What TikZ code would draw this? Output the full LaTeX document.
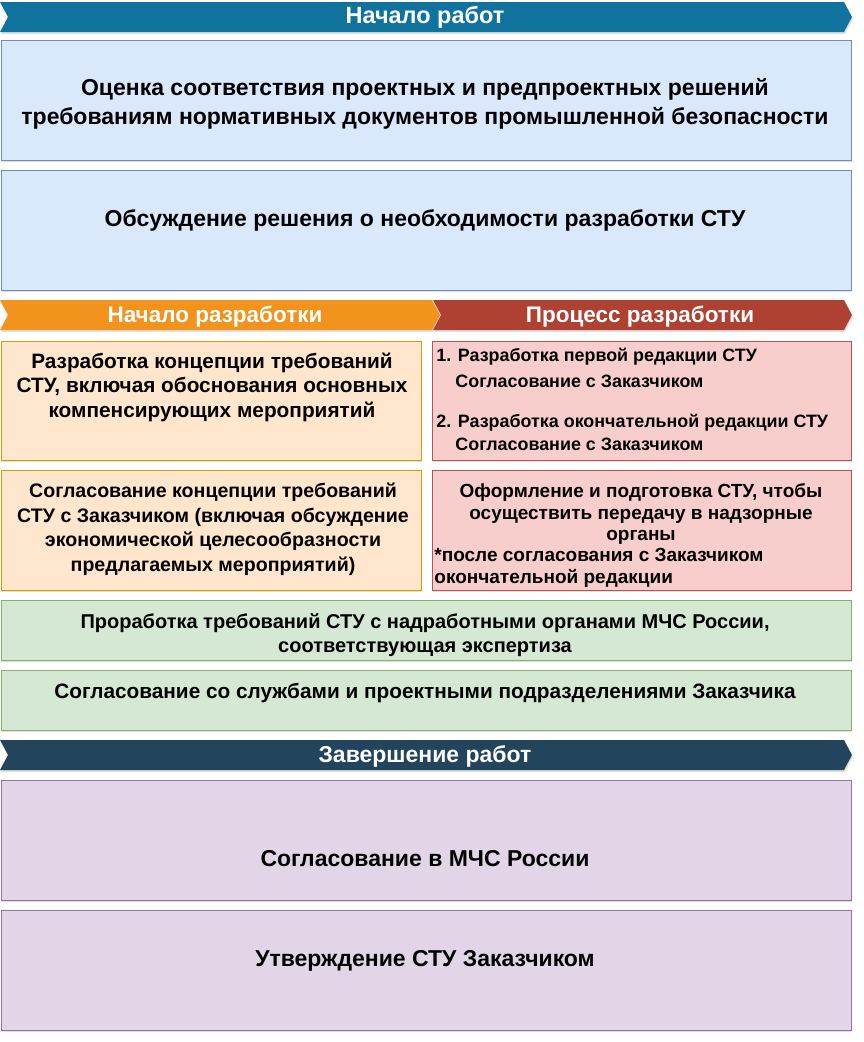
\documentclass[tikz,border=0pt]{standalone}
\usepackage{fontspec}
\setmainfont{Liberation Sans}
\usetikzlibrary{shadows}
\definecolor{bannerA}{HTML}{10739E}
\definecolor{bannerB}{HTML}{F2931E}
\definecolor{bannerC}{HTML}{AE4132}
\definecolor{bannerD}{HTML}{23445D}
\definecolor{blueF}{HTML}{DAE8FC}\definecolor{blueD}{HTML}{6C8EBF}
\definecolor{orF}{HTML}{FFE6CC}\definecolor{orD}{HTML}{D79B00}
\definecolor{redF}{HTML}{F8CECC}\definecolor{redD}{HTML}{B85450}
\definecolor{grF}{HTML}{D5E8D4}\definecolor{grD}{HTML}{82B366}
\definecolor{puF}{HTML}{E1D5E7}\definecolor{puD}{HTML}{9673A6}
\tikzset{
  boxsh/.style={drop shadow={shadow xshift=1pt,shadow yshift=-2pt,opacity=0.25}},
  bluebox/.style={fill=blueF,draw=blueD,boxsh},
  orbox/.style={fill=orF,draw=orD,boxsh},
  redbox/.style={fill=redF,draw=redD,boxsh},
  grbox/.style={fill=grF,draw=grD,boxsh},
  pubox/.style={fill=puF,draw=puD,boxsh},
  txt/.style={font=\fontsize{23}{28}\selectfont\bfseries,align=center,inner sep=0},
  ltxt/.style={font=\fontsize{17.9}{21}\selectfont\bfseries,align=left,inner sep=0,anchor=west},
  btxt/.style={font=\fontsize{23.5}{24}\selectfont\bfseries,text=white,inner sep=0},
}
\newcommand{\banner}[5]{% x1,x2,ytop,ybot,color
  \fill[#5,boxsh] (#1,#3) -- (#2-8,#3) -- (#2,{(#3+#4)/2}) -- (#2-8,#4) -- (#1,#4) -- (#1+8,{(#3+#4)/2}) -- cycle;}
\begin{document}
\begin{tikzpicture}[x=1pt,y=-1pt,line width=0.8pt]
\useasboundingbox (0,0) rectangle (863,1042);
% banner 1
\banner{0}{852}{2}{32}{bannerA}
\node[btxt] (b1) at (425,17.5) {Начало работ};
\draw[bluebox] (1,40) rectangle (851,160);
\node[txt,font=\fontsize{23}{29}\selectfont\bfseries] (t1) at (425,104) {Оценка соответствия проектных и предпроектных решений\\требованиям нормативных документов промышленной безопасности};
\draw[bluebox] (1,170) rectangle (851,290);
\node[txt] (t2) at (425,220) {Обсуждение решения о необходимости разработки СТУ};
% banners 2
\banner{0}{440}{300}{330}{bannerB}
\node[btxt,font=\fontsize{22.5}{24}\selectfont\bfseries] (b2) at (215,316.5) {Начало разработки};
\banner{433}{852}{300}{330}{bannerC}
\node[btxt,font=\fontsize{22.5}{24}\selectfont\bfseries] (b3) at (640,316.5) {Процесс разработки};
% orange boxes
\draw[orbox] (1,341) rectangle (421,460);
\node[txt,font=\fontsize{20.8}{24.5}\selectfont\bfseries] (o1) at (212,387) {Разработка концепции требований\\СТУ, включая обоснования основных\\компенсирующих мероприятий};
\draw[orbox] (1,470) rectangle (421,590);
\node[txt,font=\fontsize{19.6}{24.5}\selectfont\bfseries] (o2) at (213,529) {Согласование концепции требований\\СТУ с Заказчиком (включая обсуждение\\экономической целесообразности\\предлагаемых мероприятий)};
% red boxes
\draw[redbox] (432,341) rectangle (851,460);
\node[ltxt] (r1a) at (436,357) {1. Разработка первой редакции СТУ};
\node[ltxt] (r1b) at (455,381) {Согласование с Заказчиком};
\node[ltxt] (r1c) at (436,423) {2. Разработка окончательной редакции СТУ};
\node[ltxt] (r1d) at (455,444) {Согласование с Заказчиком};
\draw[redbox] (432,470) rectangle (851,590);
\node[txt,font=\fontsize{19}{21.5}\selectfont\bfseries] (r2a) at (641,514) {Оформление и подготовка СТУ, чтобы\\осуществить передачу в надзорные\\органы};
\node[ltxt,font=\fontsize{19}{21.5}\selectfont\bfseries] (r2b) at (434,568) {*после согласования с Заказчиком\\окончательной редакции};
% green
\draw[grbox] (1,600) rectangle (851,660);
\node[txt,font=\fontsize{20}{24}\selectfont\bfseries] (g1) at (425,635) {Проработка требований СТУ с надработными органами МЧС России,\\соответствующая экспертиза};
\draw[grbox] (1,670) rectangle (851,730);
\node[txt,font=\fontsize{20.8}{24}\selectfont\bfseries] (g2) at (425,693) {Согласование со службами и проектными подразделениями Заказчика};
% banner 4
\banner{0}{852}{740}{770}{bannerD}
\node[btxt,font=\fontsize{23}{24}\selectfont\bfseries] (b4) at (425,756.5) {Завершение работ};
% purple
\draw[pubox] (1,780) rectangle (851,900);
\node[txt] (p1) at (425,859) {Согласование в МЧС России};
\draw[pubox] (1,910) rectangle (851,1030);
\node[txt] (p2) at (425,961) {Утверждение СТУ Заказчиком};
\end{tikzpicture}
\end{document}
